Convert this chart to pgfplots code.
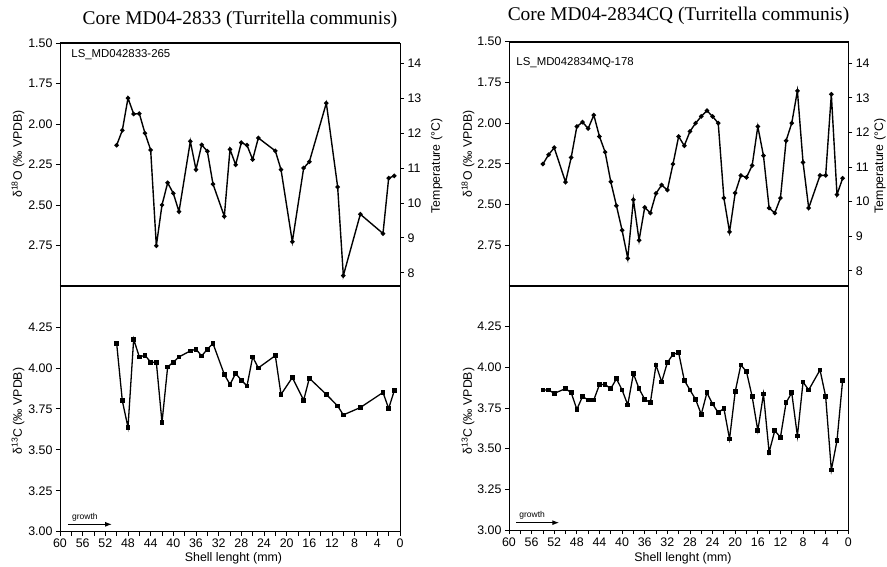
\documentclass[border=0pt]{standalone}
\usepackage{fontspec}
\setmainfont{Liberation Sans}
\newfontfamily\timesfont{Liberation Serif}
\usepackage{pgfplots}
\usepackage{pgfplotstable}
\pgfplotsset{compat=1.18}
\usetikzlibrary{arrows.meta}

% shell length (mm), isotope value
\pgfplotstableread{
mm  v
50 2.131
49 2.039
48 1.840
47 1.938
46 1.936
45 2.057
44 2.160
43 2.752
42 2.500
41 2.363
40 2.428
39 2.541
37 2.107
36 2.281
35 2.129
34 2.168
33 2.371
31 2.570
30 2.156
29 2.252
28 2.115
27 2.131
26 2.219
25 2.086
22 2.166
21 2.281
19 2.727
17 2.272
16 2.233
13 1.871
11 2.389
10 2.936
7 2.557
3 2.676
2 2.334
1 2.320
}\oaL

\pgfplotstableread{
mm  v
50 4.149
49 3.799
48 3.637
47 4.175
46 4.067
45 4.077
44 4.035
43 4.035
42 3.667
41 4.006
40 4.035
39 4.067
37 4.104
36 4.114
35 4.073
34 4.114
33 4.149
31 3.960
30 3.899
29 3.966
28 3.925
27 3.890
26 4.067
25 4.000
22 4.075
21 3.838
19 3.941
17 3.803
16 3.937
13 3.838
11 3.768
10 3.713
7 3.758
3 3.850
2 3.752
1 3.862
}\caL

\pgfplotstableread{
mm  v
54 2.251
53 2.194
52 2.151
50 2.362
49 2.211
48 2.021
47 1.994
46 2.033
45 1.951
44 2.082
43 2.178
42 2.360
41 2.507
40 2.658
39 2.830
38 2.470
37 2.719
36 2.517
35 2.552
34 2.431
33 2.380
32 2.411
31 2.251
30 2.082
29 2.139
28 2.051
27 2.000
26 1.959
25 1.923
24 1.959
23 2.000
22 2.460
21 2.668
20 2.429
19 2.321
18 2.333
17 2.260
16 2.021
15 2.200
14 2.521
13 2.552
12 2.460
11 2.108
10 2.000
9 1.802
8 2.241
7 2.521
5 2.321
4 2.321
3 1.823
2 2.439
1 2.339
}\oaR

\pgfplotstableread{
mm  v
54 3.861
53 3.861
52 3.840
50 3.869
49 3.844
48 3.742
47 3.820
46 3.800
45 3.800
44 3.894
43 3.894
42 3.869
41 3.930
40 3.861
39 3.769
38 3.961
37 3.869
36 3.803
35 3.783
34 4.015
33 3.910
32 4.029
31 4.080
30 4.090
29 3.920
28 3.861
27 3.803
26 3.711
25 3.844
24 3.775
23 3.721
22 3.748
21 3.560
20 3.850
19 4.015
18 3.973
17 3.820
16 3.611
15 3.836
14 3.478
13 3.611
12 3.570
11 3.783
10 3.844
9 3.578
8 3.910
7 3.861
5 3.984
4 3.820
3 3.369
2 3.549
1 3.920
}\caR

\pgfplotsset{
  core/.style={scale only axis, anchor=south west, x dir=reverse, xmin=0, xmax=60,
    axis line style={line width=0.9pt}, tick style={line width=0.8pt,black},
    tick align=outside, major tick length=4pt, minor tick length=4pt, tick pos=left,
    /pgf/number format/assume math mode=true,
    tick label style={font=\fontsize{12.4}{13}\selectfont},
    clip=false},
  dec/.style={yticklabel style={/pgf/number format/.cd,fixed,fixed zerofill,precision=2}},
  top/.style={core, dec, y dir=reverse, ymin=1.5, ymax=3.0, xtick=\empty,
    ytick={1.5,1.75,2,2.25,2.5,2.75}},
  bot/.style={core, dec, ymin=3.0, ymax=4.5, ytick={3,3.25,3.5,3.75,4,4.25},
    xtick={0,4,...,60}, minor x tick num=1},
  temp/.style={scale only axis, anchor=south west, axis x line=none, axis y line*=right,
    xmin=0, xmax=1, ytick={8,...,14}, axis line style={line width=0.9pt},
    tick style={line width=0.8pt,black}, tick align=outside, major tick length=4pt,
    /pgf/number format/assume math mode=true,
    tick label style={font=\fontsize{12.4}{13}\selectfont}},
  oline/.style={black, line width=1.4pt, mark=*, mark size=1.5pt},
  cline/.style={black, line width=1.3pt, mark=square*, mark size=1.7pt},
}

\begin{document}
\begin{tikzpicture}[x=1pt,y=1pt]
\useasboundingbox (0,0) rectangle (887,566);

% titles
\node[font=\timesfont\fontsize{19.4}{21}\selectfont] at (240,546) {Core MD04-2833 (Turritella communis)};
\node[font=\timesfont\fontsize{19.4}{21}\selectfont] at (678.5,550.5) {Core MD04-2834CQ (Turritella communis)};

% ---------- left column ----------
\begin{axis}[top, at={(60pt,280pt)}, width=340pt, height=243pt]
  \addplot[oline] table[x=mm,y=v] {\oaL};
  \node[anchor=west, font=\fontsize{11.4}{12}\selectfont] at (axis cs:58.6,1.574) {LS\_MD042833-265};
  \draw[line width=2pt] (rel axis cs:0,1) -- (rel axis cs:1,1);
\end{axis}
\begin{axis}[temp, at={(60pt,280pt)}, width=340pt, height=243pt, ymin=7.62, ymax=14.58]
  \addplot[draw=none] coordinates {(0.5,10)};
\end{axis}
\begin{axis}[bot, at={(60pt,34.3pt)}, width=340pt, height=245.7pt]
  \addplot[cline] table[x=mm,y=v] {\caL};
  \draw[line width=2pt] (rel axis cs:0,1) -- (rel axis cs:1,1);
  \draw[line width=1.3pt, -{Latex[length=7pt,width=5pt]}] (axis cs:58.6,3.045) -- (axis cs:50.8,3.045);
  \node[font=\fontsize{8.5}{9}\selectfont] at (axis cs:55.6,3.09) {growth};
\end{axis}
\node[rotate=90, font=\fontsize{12.3}{13}\selectfont] at (18,412) {δ\textsuperscript{18}O (‰ VPDB)};
\node[rotate=90, font=\fontsize{12.3}{13}\selectfont] at (18,155) {δ\textsuperscript{13}C (‰ VPDB)};
\node[rotate=90, font=\fontsize{12.3}{13}\selectfont] at (436.7,400) {Temperature (°C)};
\node[font=\fontsize{12.4}{13}\selectfont] at (233.5,8) {Shell lenght (mm)};

% ---------- right column ----------
\begin{axis}[top, at={(509pt,280pt)}, width=339.3pt, height=244.3pt]
  \addplot[oline] table[x=mm,y=v] {\oaR};
  \node[anchor=west, font=\fontsize{11.4}{12}\selectfont] at (axis cs:59.3,1.63) {LS\_MD042834MQ-178};
  \draw[line width=2pt] (rel axis cs:0,1) -- (rel axis cs:1,1);
\end{axis}
\begin{axis}[temp, at={(509pt,280pt)}, width=339.3pt, height=244.3pt, ymin=7.56, ymax=14.625]
  \addplot[draw=none] coordinates {(0.5,10)};
\end{axis}
\begin{axis}[bot, at={(509pt,36pt)}, width=339.3pt, height=244pt]
  \addplot[cline] table[x=mm,y=v] {\caR};
  \draw[line width=2pt] (rel axis cs:0,1) -- (rel axis cs:1,1);
  \draw[line width=1.3pt, -{Latex[length=7pt,width=5pt]}] (axis cs:58.7,3.045) -- (axis cs:51.1,3.045);
  \node[font=\fontsize{8.5}{9}\selectfont] at (axis cs:55.9,3.09) {growth};
\end{axis}
\node[rotate=90, font=\fontsize{12.3}{13}\selectfont] at (468,412) {δ\textsuperscript{18}O (‰ VPDB)};
\node[rotate=90, font=\fontsize{12.3}{13}\selectfont] at (468,155) {δ\textsuperscript{13}C (‰ VPDB)};
\node[rotate=90, font=\fontsize{12.3}{13}\selectfont] at (880,400) {Temperature (°C)};
\node[font=\fontsize{12.4}{13}\selectfont] at (683,8) {Shell lenght (mm)};
\end{tikzpicture}
\end{document}
